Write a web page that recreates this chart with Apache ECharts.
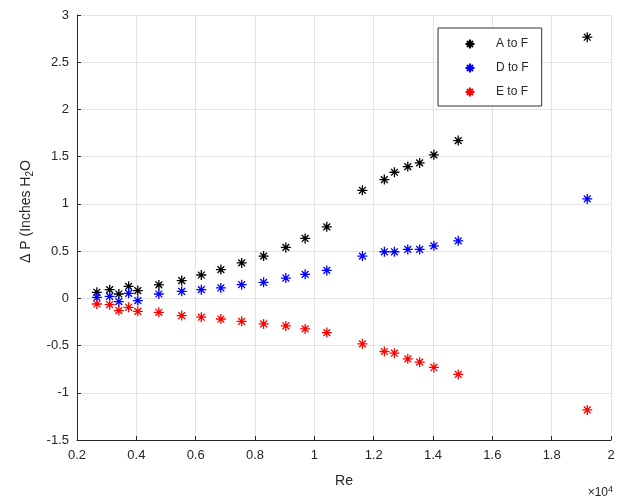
<!DOCTYPE html>
<html>
<head>
<meta charset="utf-8">
<script src="https://cdn.jsdelivr.net/npm/echarts@6/dist/echarts.min.js"></script>
<style>
  html, body { margin: 0; padding: 0; background: #fff; }
  #chart { width: 621px; height: 499px; }
</style>
</head>
<body>
<div id="chart"></div>
<script>
// Reynolds number of each test point
const reValues = [2670, 3100, 3410, 3740, 4050, 4760, 5530, 6190, 6850, 7550,
  8290, 9040, 9690, 10420, 11620, 12360, 12700, 13150, 13550, 14030, 14850, 19200]
// pressure drop, inches of water
const aToF = [0.064, 0.092, 0.046, 0.127, 0.082, 0.142, 0.188, 0.247, 0.304, 0.375,
  0.447, 0.539, 0.634, 0.757, 1.144, 1.257, 1.335, 1.395, 1.434, 1.519, 1.67, 2.765]
const dToF = [0.011, 0.021, -0.035, 0.053, -0.024, 0.046, 0.074, 0.092, 0.11, 0.145,
  0.169, 0.215, 0.254, 0.296, 0.447, 0.493, 0.493, 0.518, 0.518, 0.556, 0.609, 1.053]
const eToF = [-0.06, -0.067, -0.13, -0.095, -0.138, -0.148, -0.183, -0.2, -0.219, -0.243,
  -0.271, -0.292, -0.324, -0.363, -0.482, -0.563, -0.581, -0.641, -0.676, -0.732, -0.806, -1.182]
const seriesNames = ['A to F', 'D to F', 'E to F']
const seriesColors = ['#000000', '#0000ff', '#ff0000']

const FONT = 'Liberation Sans'
const TEXT = '#262626'
// asterisk marker like matlab '*'
const STAR = 'path://M5 0L5 10M0 5L10 5M1.6 1.6L8.4 8.4M8.4 1.6L1.6 8.4'

const pairs = (ys) => reValues.map((x, i) => [x, ys[i]])

const chart = echarts.init(document.getElementById('chart'))
const options = {
  animation: false,
  backgroundColor: '#fff',
  textStyle: { fontFamily: FONT },
  grid: { left: 77, right: 10, top: 15, bottom: 59 },
  legend: {
    orient: 'vertical',
    left: 438,
    top: 28,
    padding: [9, 13, 7, 25],
    itemGap: 10,
    itemWidth: 42,
    itemHeight: 9,
    backgroundColor: '#fff',
    borderColor: '#333',
    borderWidth: 1,
    textStyle: { fontFamily: FONT, fontSize: 12, color: TEXT, lineHeight: 14 },
    data: seriesNames
  },
  xAxis: {
    type: 'value',
    min: 2000,
    max: 20000,
    interval: 2000,
    name: 'Re',
    nameLocation: 'middle',
    nameGap: 34,
    nameTextStyle: { fontFamily: FONT, fontSize: 14, color: TEXT },
    axisLine: { onZero: false, lineStyle: { color: '#262626', width: 1 } },
    axisTick: { inside: true, length: 4, lineStyle: { color: '#262626' } },
    axisLabel: {
      fontFamily: FONT, fontSize: 13, color: TEXT, margin: 9,
      formatter: (v) => String(+(v / 10000).toFixed(1))
    },
    splitLine: { show: true, lineStyle: { color: '#e3e3e3', width: 1 } }
  },
  yAxis: {
    type: 'value',
    min: -1.5,
    max: 3,
    interval: 0.5,
    name: '{t|Δ P (Inches H}{s|2}{t|O}',
    nameLocation: 'middle',
    nameGap: 31,
    nameTextStyle: {
      color: TEXT,
      padding: [0, 0, 0, 32],
      rich: {
        t: { fontFamily: FONT, fontSize: 14, color: TEXT, lineHeight: 20 },
        s: { fontFamily: FONT, fontSize: 10, color: TEXT, lineHeight: 20, padding: [9, 0, 0, 0] }
      }
    },
    axisLine: { show: true, onZero: false, lineStyle: { color: '#262626', width: 1 } },
    axisTick: { show: true, inside: true, length: 4, lineStyle: { color: '#262626' } },
    axisLabel: { fontFamily: FONT, fontSize: 13, color: TEXT, margin: 8 },
    splitLine: { show: true, lineStyle: { color: '#e3e3e3', width: 1 } }
  },
  graphic: [{
    type: 'text',
    right: 8,
    top: 481,
    style: {
      text: '{a|×10}{b|4}',
      rich: {
        a: { fontFamily: FONT, fontSize: 12, fill: TEXT, lineHeight: 18, padding: [6, 0, 0, 0] },
        b: { fontFamily: FONT, fontSize: 9, fill: TEXT, lineHeight: 18 }
      }
    }
  }],
  series: [aToF, dToF, eToF].map((ys, i) => ({
    name: seriesNames[i],
    type: 'scatter',
    symbol: STAR,
    symbolSize: 10,
    itemStyle: {
      color: 'none',
      borderColor: seriesColors[i],
      borderWidth: 1.3,
      opacity: 1
    },
    emphasis: { disabled: true },
    data: pairs(ys)
  }))
}
chart.setOption(options)
</script>
</body>
</html>
